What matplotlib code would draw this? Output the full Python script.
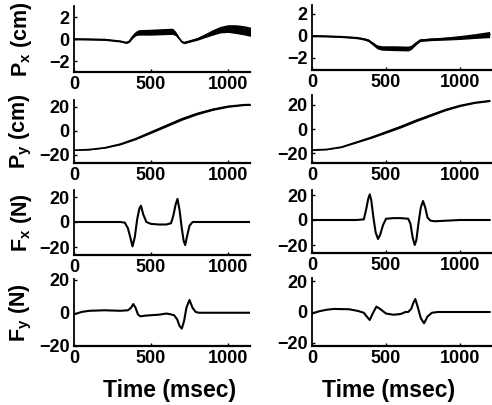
import matplotlib
matplotlib.use("Agg")
import matplotlib.pyplot as plt
import numpy as np

plt.rcParams['font.family'] = ['Liberation Sans', 'DejaVu Sans']
plt.rcParams['font.weight'] = 'bold'
plt.rcParams['mathtext.fontset'] = 'custom'
plt.rcParams['mathtext.rm'] = 'Liberation Sans:bold'
plt.rcParams['mathtext.it'] = 'Liberation Sans:bold'
plt.rcParams['mathtext.bf'] = 'Liberation Sans:bold'

# ---------------- data ----------------
# Left column
lpx_t = [0, 100, 200, 300, 340, 360, 380, 400, 420, 500, 600, 640, 660, 680, 700, 715, 750, 800, 850, 900, 950, 1000, 1050, 1100, 1150, 1200]
lpx_c = [0, -0.02, -0.05, -0.2, -0.33, -0.2, 0.2, 0.5, 0.6, 0.62, 0.68, 0.7, 0.5, 0.1, -0.25, -0.33, -0.2, 0.0, 0.3, 0.6, 0.85, 0.95, 0.9, 0.8, 0.65, 0.5]
lpx_hw = [0.08, 0.08, 0.08, 0.08, 0.08, 0.1, 0.15, 0.2, 0.25, 0.27, 0.28, 0.28, 0.2, 0.12, 0.1, 0.1, 0.1, 0.12, 0.18, 0.25, 0.3, 0.35, 0.4, 0.42, 0.42, 0.42]

lpy_t = [0, 100, 200, 300, 400, 500, 600, 700, 800, 900, 1000, 1100, 1200]
lpy_c = [-16, -15.5, -14, -11, -6.5, -1, 4.5, 10, 14.5, 18, 20.5, 21.8, 22.3]
lpy_hw = [0.3, 0.3, 0.4, 0.6, 0.8, 1.0, 1.1, 1.1, 1.0, 0.9, 0.8, 0.7, 0.7]

lfx_t = [0, 300, 330, 350, 365, 380, 395, 410, 425, 435, 450, 470, 500, 550, 600, 630, 645, 660, 672, 685, 700, 712, 722, 735, 750, 770, 800, 1000, 1200]
lfx_c = [0, 0, -0.5, -5, -12, -19.5, -12, 2, 11, 13, 6, 0, -1.5, -2, -2, -1, 5, 14, 18.5, 10, -5, -15, -18.5, -11, -3, 0, 0, 0, 0]

lfy_t = [0, 50, 100, 200, 300, 350, 370, 385, 400, 415, 430, 460, 500, 550, 600, 620, 650, 670, 685, 700, 715, 730, 750, 770, 790, 810, 900, 1000, 1200]
lfy_c = [-1, 0.5, 1.2, 1.5, 1.2, 1.5, 3, 5.3, 3, -1, -2.2, -1.8, -1.5, -1.2, -0.5, -0.8, -1.5, -4, -8, -9.7, -5, 3, 7.8, 3, 0.5, 0, 0, 0, 0]

# Right column
rpx_t = [0, 100, 200, 300, 350, 380, 410, 440, 470, 550, 650, 670, 700, 730, 800, 900, 1000, 1100, 1200]
rpx_c = [0, -0.03, -0.08, -0.17, -0.28, -0.4, -0.7, -1.0, -1.1, -1.12, -1.15, -1.05, -0.7, -0.4, -0.32, -0.25, -0.15, -0.02, 0.12]
rpx_hw = [0.08, 0.08, 0.08, 0.09, 0.1, 0.12, 0.15, 0.18, 0.2, 0.22, 0.22, 0.2, 0.15, 0.12, 0.12, 0.14, 0.18, 0.22, 0.28]

rpy_t = [0, 100, 200, 300, 400, 500, 600, 700, 800, 900, 1000, 1100, 1200]
rpy_c = [-17.5, -17, -15, -11, -7, -2.5, 2, 7, 11.5, 16, 19.5, 22, 23.5]
rpy_hw = [0.3, 0.3, 0.4, 0.6, 0.8, 1.0, 1.1, 1.1, 1.0, 0.9, 0.8, 0.7, 0.7]

rfx_t = [0, 300, 350, 365, 380, 390, 400, 415, 430, 446, 460, 480, 500, 550, 600, 650, 665, 680, 694, 705, 720, 735, 750, 765, 780, 800, 830, 1000, 1200]
rfx_c = [0, 0, 0.5, 8, 17, 20.5, 16, 2, -10, -15.2, -12, -4, 1, 1.5, 1.5, 1, -3, -14, -20, -16, -2, 10, 15.2, 10, 2, -0.5, -1, 0, 0]

rfy_t = [0, 50, 100, 150, 250, 310, 350, 370, 390, 410, 435, 460, 500, 550, 600, 630, 650, 670, 685, 698, 715, 735, 757, 780, 810, 850, 1000, 1200]
rfy_c = [-1, 0.5, 1.5, 2, 1.8, 0.7, -0.5, -3, -5.2, -1, 3.5, 2, -1, -1.8, -1.3, 0, 0, 2, 6, 8.5, 3, -4, -7.4, -3, -0.5, 0, 0, 0]

x_ticks = [0, 500, 1000]
px_ticks = [-2, 0, 2]
big_ticks = [-20, 0, 20]
ylabels = ['P$_{\\mathrm{x}}$ (cm)', 'P$_{\\mathrm{y}}$ (cm)', 'F$_{\\mathrm{x}}$ (N)', 'F$_{\\mathrm{y}}$ (N)']
xlabel = 'Time (msec)'

# ---------------- layout ----------------
W, H = 492, 405
fig = plt.figure(figsize=(W / 100, H / 100), dpi=100)

def add_ax(x0, x1, y0, y1):
    return fig.add_axes([x0 / W, 1 - y1 / H, (x1 - x0) / W, (y1 - y0) / H])

# pixel boxes (x0, x1, ytop, ybottom)
left_boxes = [(74, 250, 6, 72), (74, 250, 100, 163), (74, 250, 190, 255), (74, 250, 279, 346)]
right_boxes = [(312, 492, 5, 70), (312, 492, 95, 163), (312, 492, 190, 253), (312, 492, 278, 346)]
left_ylims = [(-3, 3), (-26.7, 25.8), (-26.4, 25.6), (-20.3, 20.6)]
right_ylims = [(-3.1, 2.8), (-28.3, 28.3), (-26.4, 24), (-22.2, 22.2)]
left_xlim = (0, 1143)
right_xlim = (0, 1216)

left_series = [(lpx_t, lpx_c, lpx_hw), (lpy_t, lpy_c, lpy_hw), (lfx_t, lfx_c, None), (lfy_t, lfy_c, None)]
right_series = [(rpx_t, rpx_c, rpx_hw), (rpy_t, rpy_c, rpy_hw), (rfx_t, rfx_c, None), (rfy_t, rfy_c, None)]

def style(ax, yt, ylim, xlim):
    ax.set_xlim(*xlim)
    ax.set_ylim(*ylim)
    ax.set_xticks(x_ticks)
    ax.set_yticks(yt)
    ax.spines['top'].set_visible(False)
    ax.spines['right'].set_visible(False)
    ax.spines['left'].set_linewidth(1.3)
    ax.spines['bottom'].set_linewidth(1.6)
    ax.tick_params(direction='in', length=2, width=1, labelsize=13, pad=3)
    for lab in ax.get_xticklabels() + ax.get_yticklabels():
        lab.set_fontweight('bold')

for col, (boxes, ylims, xlim, series) in enumerate([
        (left_boxes, left_ylims, left_xlim, left_series),
        (right_boxes, right_ylims, right_xlim, right_series)]):
    for row in range(4):
        ax = add_ax(*boxes[row])
        t, c, hw = series[row]
        t = np.array(t, float)
        c = np.array(c, float)
        if hw is not None:
            hw = np.array(hw, float)
            ax.fill_between(t, c - hw, c + hw, color='k', lw=0)
            ax.plot(t, c, color='k', lw=1.2)
        else:
            ax.plot(t, c, color='k', lw=1.5)
        style(ax, px_ticks if row == 0 else big_ticks, ylims[row], xlim)
        if col == 0:
            ax.set_ylabel(ylabels[row], fontsize=15.5, fontweight='bold')
            ax.yaxis.set_label_coords(-40 / 176, 0.5)

fig.text(170 / W, 1 - 390 / H, xlabel, ha='center', va='center', fontsize=16.5, fontweight='bold')
fig.text(389 / W, 1 - 390 / H, xlabel, ha='center', va='center', fontsize=16.5, fontweight='bold')

fig.savefig('out.png', dpi=100, facecolor='white')
